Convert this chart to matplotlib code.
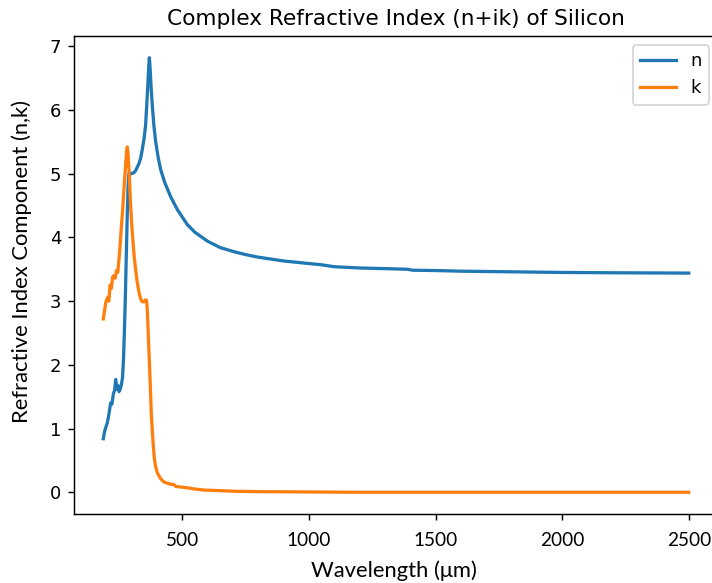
import numpy as np
import matplotlib
matplotlib.use("Agg")
import matplotlib.pyplot as plt

wl_n = [188, 193, 198, 204, 210, 217, 222, 228, 233, 237, 241, 245, 250, 255,
        260, 264, 268, 272, 276, 280, 283, 286, 289, 292, 296, 300, 305, 310,
        316, 322, 329, 336, 342, 349, 355, 360, 364, 367, 370, 373, 377, 382,
        388, 395, 405, 415, 430, 454, 480, 500, 520, 550, 600, 650, 700, 750,
        800, 850, 900, 950, 1000, 1050, 1100, 1150, 1200, 1300, 1390, 1410,
        1500, 1600, 1800, 2000, 2200, 2500]
n_vals = [0.84, 0.95, 1.02, 1.09, 1.22, 1.40, 1.38, 1.55, 1.60, 1.77, 1.62,
          1.68, 1.58, 1.62, 1.70, 1.80, 2.10, 2.60, 3.20, 3.90, 4.40, 4.80,
          5.00, 5.02, 5.00, 5.00, 5.01, 5.02, 5.05, 5.10, 5.16, 5.25, 5.38,
          5.55, 5.75, 6.10, 6.40, 6.65, 6.82, 6.65, 6.35, 6.05, 5.75, 5.50,
          5.25, 5.06, 4.87, 4.64, 4.44, 4.32, 4.20, 4.08, 3.94, 3.84, 3.78,
          3.73, 3.69, 3.66, 3.63, 3.61, 3.59, 3.57, 3.54, 3.53, 3.52, 3.51,
          3.50, 3.485, 3.48, 3.47, 3.46, 3.45, 3.445, 3.44]

# imaginary part k
wl_k = [188, 193, 198, 204, 210, 215, 220, 225, 230, 235, 240, 245, 250, 255,
        260, 264, 268, 272, 276, 280, 283, 286, 289, 292, 296, 300, 305, 310,
        316, 322, 329, 336, 342, 349, 355, 359, 362, 366, 370, 374, 378, 382,
        386, 390, 395, 402, 415, 428, 450, 467, 475, 500, 520, 550, 586, 650,
        717, 800, 1000, 1200, 1500, 2000, 2500]
k_vals = [2.72, 2.85, 2.98, 3.05, 3.00, 3.25, 3.20, 3.38, 3.40, 3.36, 3.48,
          3.45, 3.65, 3.90, 4.20, 4.40, 4.65, 4.90, 5.12, 5.35, 5.42, 5.30,
          5.10, 4.85, 4.50, 4.22, 3.95, 3.70, 3.49, 3.30, 3.14, 3.03, 2.99,
          2.99, 3.02, 3.01, 2.85, 2.45, 2.05, 1.65, 1.20, 0.95, 0.70, 0.52,
          0.40, 0.30, 0.21, 0.16, 0.13, 0.12, 0.09, 0.08, 0.07, 0.05, 0.035,
          0.025, 0.015, 0.01, 0.005, 0.0, 0.0, 0.0, 0.0]

dpi = 130
fig = plt.figure(figsize=(712 / dpi, 583 / dpi), dpi=dpi)
# axes run a little past the right edge, like the cropped original
ax = fig.add_axes([74 / 712, 69 / 583, 644 / 712, 478 / 583])

ax.plot(wl_n, n_vals, label="n", lw=1.8)
ax.plot(wl_k, k_vals, label="k", lw=1.8)

ax.set_title("Complex Refractive Index (n+ik) of Silicon")
ax.set_xlabel("Wavelength (μm)", family="Lato", fontsize=12.2, va="center")
ax.set_ylabel("Refractive Index Component (n,k)", family="Lato",
              fontsize=12.2, va="center", ha="center")
ax.xaxis.set_label_coords(0.497, -0.119)
ax.yaxis.set_label_coords(-0.081, 0.528)
ax.tick_params(axis="x", pad=6.3)
for lab in ax.get_xticklabels():
    lab.set_family("Lato")
    lab.set_fontsize(10.5)
ax.legend(loc="upper right")

fig.savefig("out.png", dpi=dpi)
